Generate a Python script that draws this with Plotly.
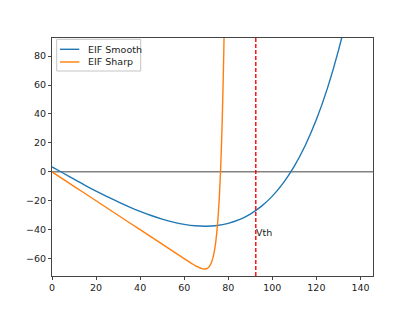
import plotly.graph_objects as go

# Membrane potential samples (x) and F(V) readings (y)
v_smooth = [0, 5, 10, 15, 20, 25, 30, 35, 40, 45, 50, 55, 60, 65, 70, 75, 80, 85,
            90, 95, 100, 105, 110, 115, 120, 125, 130, 135, 140]
f_smooth = [3.4, -0.8, -5.1, -9.3, -13.3, -17.1, -20.8, -24.2, -27.4, -30.2, -32.7,
            -34.8, -36.3, -37.3, -37.6, -37.1, -35.6, -33.1, -29.2, -23.9, -16.8,
            -7.6, 4.0, 18.4, 36.1, 57.7, 83.8, 115.2, 152.8]

v_sharp = [0, 10, 20, 30, 40, 50, 60, 62, 64, 65, 66, 67, 68, 69, 70, 70.5, 71, 71.5,
           72, 72.5, 73, 73.5, 74, 74.5, 75, 75.5, 76, 76.5, 77, 77.5, 78, 78.5]
f_sharp = [0, -10, -20, -30, -40, -50, -60.0, -61.9, -63.9, -64.8, -65.6, -66.3, -66.9,
           -67.2, -67.0, -66.7, -66.1, -65.2, -63.9, -62.1, -59.6, -56.3, -52.0,
           -46.2, -38.7, -28.8, -16.1, 0.4, 21.8, 49.4, 84.9, 130.7]

series_names = ["EIF Smooth", "EIF Sharp"]
series_colors = ["#1f77b4", "#ff7f0e"]

vth = 92.5
vth_label = "Vth"
x_ticks = [0, 20, 40, 60, 80, 100, 120, 140]
y_ticks = [-60, -40, -20, 0, 20, 40, 60, 80]

FONT = dict(size=9.5, color="#222222", family="DejaVu Sans")

fig = go.Figure()
fig.add_trace(go.Scatter(x=v_smooth, y=f_smooth, mode="lines", name=series_names[0],
                         line=dict(color=series_colors[0], width=1.4, shape="spline")))
fig.add_trace(go.Scatter(x=v_sharp, y=f_sharp, mode="lines", name=series_names[1],
                         line=dict(color=series_colors[1], width=1.4, shape="spline",
                                   smoothing=0.6)))

fig.add_shape(type="line", xref="paper", x0=0, x1=1, yref="y", y0=0, y1=0,
              line=dict(color="#444444", width=1), layer="below")
fig.add_shape(type="line", xref="x", x0=vth, x1=vth, yref="paper", y0=0, y1=1,
              line=dict(color="red", width=1.4, dash="4px,2px"))
fig.add_annotation(x=vth, y=-41.7, text=vth_label, showarrow=False,
                   xanchor="left", yanchor="middle", xshift=-2, font=FONT)

# hand-made legend box (matplotlib style), in paper coordinates
# plot area is 321 px wide and 238 px tall
def px(dx):
    return dx / 321.0

def py(dy):
    return 1 - dy / 238.0

fig.add_shape(type="rect", xref="paper", yref="paper",
              x0=px(4.7), x1=px(88.7), y0=py(1.3), y1=py(33),
              line=dict(color="#c4c4c4", width=1), fillcolor="rgba(255,255,255,0.85)")
row_y = [11.3, 24.0]
for name, color, ry in zip(series_names, series_colors, row_y):
    fig.add_shape(type="line", xref="paper", yref="paper",
                  x0=px(8), x1=px(27.3), y0=py(ry), y1=py(ry),
                  line=dict(color=color, width=1.4))
    fig.add_annotation(xref="paper", yref="paper", x=px(34), y=py(ry), text=name,
                       showarrow=False, xanchor="left", yanchor="middle", font=FONT)

axis_common = dict(showgrid=False, zeroline=False, showline=True, linecolor="#444444",
                   linewidth=1, mirror=True, ticks="outside", ticklen=3,
                   tickcolor="#444444", tickfont=FONT)
fig.update_xaxes(range=[0, 145.7], tickvals=x_ticks, **axis_common)
fig.update_yaxes(range=[-72, 92.5], tickvals=y_ticks, **axis_common)

fig.update_layout(
    width=407, height=303,
    margin=dict(l=44, r=42, t=30, b=35),
    plot_bgcolor="white", paper_bgcolor="white",
    showlegend=False,
    font=dict(family="DejaVu Sans"),
)

fig.write_html("out.html")
